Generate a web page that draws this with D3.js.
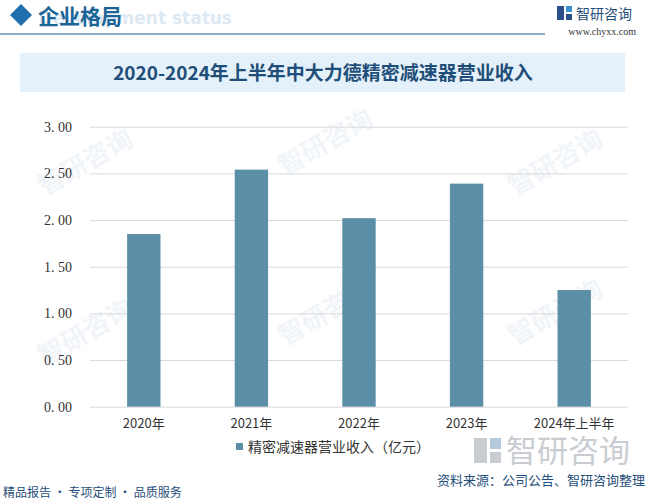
<!DOCTYPE html>
<html>
<head>
<meta charset="utf-8">
<script src="https://cdn.jsdelivr.net/npm/d3@7"></script>
<style>
  body { margin: 0; background: #fff; }
  svg { display: block; }
  .tick line { stroke: #d9d9d9; }
</style>
</head>
<body>
<div id="chart"></div>
<script>

var years   = ["2020年", "2021年", "2022年", "2023年", "2024年上半年"];
var revenue = [1.85, 2.54, 2.02, 2.39, 1.25];
var yTicks  = [0, 0.5, 1, 1.5, 2, 2.5, 3];

var title      = "2020-2024年上半年中大力德精密减速器营业收入";
var seriesName = "精密减速器营业收入（亿元）";
var sourceTxt  = "资料来源：公司公告、智研咨询整理";
var sloganTxt  = "精品报告 · 专项定制 · 品质服务";

var W = 647, H = 501;
var cjk = "'Noto Sans CJK SC', 'Noto Sans', sans-serif";
var barColor = "#5b8fa7";

var svg = d3.select("#chart").append("svg")
  .attr("width", W).attr("height", H);

var defs = svg.append("defs");
var grad = defs.append("linearGradient").attr("id", "footLine");
grad.append("stop").attr("offset", "0%").attr("stop-color", "#1f5a8a");
grad.append("stop").attr("offset", "100%").attr("stop-color", "#7fa6c4");

// faint watermarks (kept inside the frame)
var wm = svg.append("g").attr("fill", "#f1f5f9").attr("font-family", cjk);
[[90, 170], [330, 150], [560, 170], [90, 340], [330, 320], [560, 320]].forEach(function (p) {
  wm.append("text").attr("transform", "translate(" + p[0] + "," + p[1] + ") rotate(-30)")
    .attr("font-size", 26).attr("font-weight", 700).attr("text-anchor", "middle").text("智研咨询");
});

// header
svg.append("path").attr("d", "M21,4 L32,15 L21,26 L10,15 Z").attr("fill", "#1f6fae");
svg.append("text").attr("x", 232).attr("y", 24).attr("text-anchor", "end")
  .attr("font-family", "'DejaVu Sans', sans-serif").attr("font-weight", 700).attr("font-size", 17)
  .attr("fill", "#dce9f3").text("Development status");
svg.append("text").attr("x", 38).attr("y", 24)
  .attr("font-family", cjk).attr("font-weight", 700).attr("font-size", 21)
  .attr("fill", "#1a6496").text("企业格局");
svg.append("line").attr("x1", 0).attr("x2", 545).attr("y1", 34).attr("y2", 34)
  .attr("stroke", "#1f5a8a").attr("stroke-width", 1.2);

// logo top right
var logo = svg.append("g").attr("transform", "translate(557,5)");
logo.append("rect").attr("x", 0).attr("y", 1).attr("width", 7).attr("height", 14).attr("fill", "#2a4f8a");
logo.append("rect").attr("x", 9).attr("y", 1).attr("width", 6).attr("height", 6).attr("fill", "#3a8fd0");
logo.append("rect").attr("x", 9).attr("y", 9).attr("width", 6).attr("height", 6).attr("fill", "#2a4f8a");
svg.append("text").attr("x", 576).attr("y", 19).attr("font-family", cjk).attr("font-size", 14)
  .attr("fill", "#1f4e79").text("智研咨询");
svg.append("text").attr("x", 636).attr("y", 35).attr("text-anchor", "end")
  .attr("font-family", "'Liberation Serif', serif").attr("font-size", 10)
  .attr("fill", "#333").text("www.chyxx.com");

// title band
svg.append("rect").attr("x", 20).attr("y", 53).attr("width", 605).attr("height", 39).attr("fill", "#e4f1fa");
svg.append("text").attr("x", 323).attr("y", 80).attr("text-anchor", "middle")
  .attr("font-family", cjk).attr("font-weight", 700).attr("font-size", 19)
  .attr("fill", "#1f4e79").text(title);

// plot
var x = d3.scaleBand().domain(years).range([90, 628]).paddingInner(0.69).paddingOuter(0.345);
var y = d3.scaleLinear().domain([0, 3]).range([406.7, 126.7]);

var yAxis = d3.axisLeft(y).tickValues(yTicks).tickSize(-(628 - 90)).tickPadding(18)
  .tickFormat(function (d) { return d3.format(".2f")(d).replace(".", ". "); });

var gy = svg.append("g").attr("transform", "translate(90,0)").call(yAxis);
gy.select(".domain").remove();
gy.selectAll("text").attr("font-family", "'Liberation Serif', serif").attr("font-size", 14).attr("fill", "#333")
  .attr("xml:space", "preserve").style("white-space", "pre");

svg.selectAll(".bar").data(revenue).enter().append("rect")
  .attr("class", "bar")
  .attr("x", function (d, i) { return x(years[i]); })
  .attr("width", x.bandwidth())
  .attr("y", function (d) { return y(d); })
  .attr("height", function (d) { return y(0) - y(d); })
  .attr("fill", barColor);

var xAxis = d3.axisBottom(x).tickSize(0).tickPadding(12);
var gx = svg.append("g").attr("transform", "translate(0,406.7)").call(xAxis);
gx.select(".domain").remove();
gx.selectAll("text").attr("font-family", cjk).attr("font-size", 13).attr("fill", "#333");

// legend
svg.append("rect").attr("x", 236).attr("y", 443).attr("width", 7).attr("height", 7).attr("fill", barColor);
svg.append("text").attr("x", 248).attr("y", 452).attr("font-family", cjk).attr("font-size", 14)
  .attr("fill", "#333").text(seriesName);

// bottom right faint logo
var big = svg.append("g").attr("fill", "#c9cdd2");
big.append("rect").attr("x", 474).attr("y", 438).attr("width", 13).attr("height", 25);
big.append("rect").attr("x", 490).attr("y", 438).attr("width", 11).attr("height", 11).attr("fill", "#b5c9dc");
big.append("rect").attr("x", 490).attr("y", 452).attr("width", 11).attr("height", 11);
svg.append("text").attr("x", 506).attr("y", 462).attr("font-family", cjk).attr("font-size", 31)
  .attr("fill", "#c9cdd2").text("智研咨询");

// footer
svg.append("line").attr("x1", 0).attr("x2", 422).attr("y1", 478).attr("y2", 478)
  .attr("stroke", "url(#footLine)").attr("stroke-width", 1.5);
svg.append("text").attr("x", 645).attr("y", 485).attr("text-anchor", "end")
  .attr("font-family", cjk).attr("font-size", 13).attr("fill", "#1f4e79").text(sourceTxt);
svg.append("text").attr("x", 3).attr("y", 497)
  .attr("font-family", cjk).attr("font-size", 12).attr("fill", "#1f4e79").text(sloganTxt);

</script>
</body>
</html>
